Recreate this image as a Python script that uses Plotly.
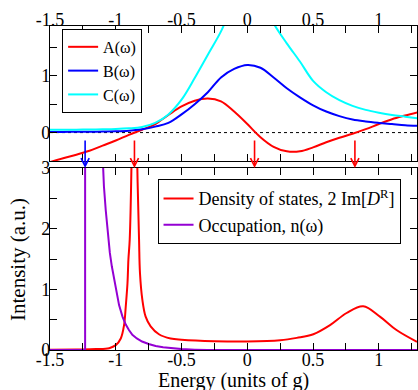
import plotly.graph_objects as go

# ---------------- data ----------------
# Top panel (common energy grid)
E_top = [-1.5, -1.4, -1.3, -1.2, -1.1, -1.0, -0.9, -0.8, -0.7, -0.6, -0.5, -0.4, -0.3, -0.2,
         -0.1, 0.0, 0.1, 0.2, 0.3, 0.4, 0.5, 0.6, 0.7, 0.8, 0.9, 1.0, 1.1, 1.2, 1.3]
A_y = [-0.52, -0.45, -0.39, -0.32, -0.23, -0.14, -0.04, 0.05, 0.15, 0.31, 0.46, 0.56, 0.60, 0.55,
       0.37, 0.15, -0.08, -0.25, -0.33, -0.33, -0.26, -0.17, -0.09, -0.02, 0.06, 0.15, 0.235, 0.30, 0.36]
B_y = [0.01, 0.012, 0.014, 0.016, 0.018, 0.022, 0.033, 0.06, 0.105, 0.17, 0.32, 0.50, 0.71, 0.97,
       1.12, 1.19, 1.14, 0.97, 0.78, 0.62, 0.48, 0.37, 0.29, 0.23, 0.195, 0.17, 0.15, 0.13, 0.12]
C_y = [0.05, 0.05, 0.052, 0.055, 0.058, 0.063, 0.075, 0.10, 0.17, 0.32, 0.58, 0.96, 1.37, 1.78,
       2.3, 2.6, 2.4, 1.92, 1.57, 1.25, 0.91, 0.71, 0.57, 0.47, 0.40, 0.35, 0.31, 0.28, 0.25]

# Bottom panel
DOS_x = [-1.5, -1.3, -1.15, -1.05, -1.0, -0.962, -0.937, -0.924, -0.911, -0.904, -0.894,
         -0.881, -0.874, -0.858, -0.843, -0.836, -0.823, -0.816, -0.798, -0.773, -0.735, -0.672, -0.583,
         -0.5, -0.25, 0.0, 0.25, 0.376, 0.502, 0.629, 0.755, 0.881, 1.008, 1.134, 1.29]
DOS_y = [0.003, 0.008, 0.015, 0.03, 0.08, 0.19, 0.41, 0.72, 1.10, 1.49, 1.82,
         3.0, 4.5, 9.0, 4.5, 3.0, 1.82, 1.27, 0.83, 0.55, 0.39, 0.26, 0.19,
         0.17, 0.145, 0.14, 0.16, 0.20, 0.26, 0.41, 0.61, 0.72, 0.55, 0.33, 0.135]

N_x = [-1.5, -1.233, -1.233, -1.101, -1.09, -1.076, -1.06, -1.045, -1.03, -1.013, -0.995,
       -0.975, -0.949, -0.924, -0.9, -0.874, -0.84, -0.80, -0.75, -0.697, -0.64, -0.583,
       -0.5, -0.4, -0.3, 1.29]
N_y = [0.0, 0.0, 10.0, 3.0, 2.7, 2.3, 1.9, 1.6, 1.38, 1.16, 0.93,
       0.74, 0.55, 0.42, 0.33, 0.25, 0.19, 0.14, 0.10, 0.066, 0.045, 0.03,
       0.015, 0.006, 0.0, 0.0]

# Arrows linking the panels
arrow_x = [-1.233, -0.858, 0.055, 0.818]
arrow_c = ["#0000ff", "#ff0000", "#ff0000", "#ff0000"]

# Ticks
x_tickvals = [-1.5, -1.25, -1.0, -0.75, -0.5, -0.25, 0.0, 0.25, 0.5, 0.75, 1.0, 1.25]
x_ticktext = ["-1.5", "", "-1", "", "-0.5", "", "0", "", "0.5", "", "1", ""]
y1_tickvals = [0, 0.5, 1, 1.5]
y1_ticktext = ["0", "", "1", ""]
y2_tickvals = [0, 0.5, 1, 1.5, 2, 2.5, 3]
y2_ticktext = ["0", "", "1", "", "2", "", "3"]

# ---------------- figure ----------------
FONT = "Liberation Serif"
RED, BLUE, CYAN, PURPLE = "#ff0000", "#0000ff", "#00ffff", "#9400d3"

fig = go.Figure()
fig.add_trace(go.Scatter(x=E_top, y=A_y, mode="lines", name="A(ω)", line=dict(color=RED, width=2, shape="spline"),
                         xaxis="x", yaxis="y", legend="legend"))
fig.add_trace(go.Scatter(x=E_top, y=B_y, mode="lines", name="B(ω)", line=dict(color=BLUE, width=2, shape="spline"),
                         xaxis="x", yaxis="y", legend="legend"))
fig.add_trace(go.Scatter(x=E_top, y=C_y, mode="lines", name="C(ω)", line=dict(color=CYAN, width=2, shape="spline"),
                         xaxis="x", yaxis="y", legend="legend"))
fig.add_trace(go.Scatter(x=DOS_x, y=DOS_y, mode="lines", name="Density of states, 2 Im[<i>D</i><sup>R</sup>]",
                         line=dict(color=RED, width=2, shape="spline"), xaxis="x2", yaxis="y2", legend="legend2"))
fig.add_trace(go.Scatter(x=N_x, y=N_y, mode="lines", name="Occupation, n(ω)",
                         line=dict(color=PURPLE, width=2, shape="linear"), xaxis="x2", yaxis="y2", legend="legend2"))

axis_common = dict(showline=True, linecolor="black", linewidth=1.2, mirror="allticks", ticks="inside",
                   ticklen=7, tickwidth=1, tickcolor="black", showgrid=False, zeroline=False,
                   automargin=False, tickfont=dict(family=FONT, size=18, color="black"))

fig.update_layout(
    width=418, height=390,
    margin=dict(l=50, r=1, t=26, b=40, autoexpand=False),
    paper_bgcolor="white", plot_bgcolor="white",
    font=dict(family=FONT, color="black"),
    xaxis=dict(domain=[0, 1], anchor="y", side="top", range=[-1.5, 1.29],
               tickvals=x_tickvals, ticktext=x_ticktext, ticklabelstandoff=-8, **axis_common),
    yaxis=dict(domain=[0.5833, 1], anchor="x", range=[-0.5, 1.875],
               tickvals=y1_tickvals, ticktext=y1_ticktext, ticklabelstandoff=-5, **axis_common),
    xaxis2=dict(domain=[0, 1], anchor="y2", range=[-1.5, 1.29],
                tickvals=x_tickvals, ticktext=x_ticktext, ticklabelstandoff=-7, **axis_common),
    yaxis2=dict(domain=[0, 0.5617], anchor="x2", range=[0, 3],
                tickvals=y2_tickvals, ticktext=y2_ticktext, ticklabelstandoff=-5, **axis_common),
    legend=dict(x=0.033, y=0.991, xanchor="left", yanchor="top", bgcolor="white",
                bordercolor="black", borderwidth=1, font=dict(family=FONT, size=16),
                tracegroupgap=0, itemwidth=30),
    legend2=dict(x=0.293, y=0.527, xanchor="left", yanchor="top", bgcolor="white",
                 bordercolor="black", borderwidth=1, font=dict(family=FONT, size=18),
                 tracegroupgap=0, itemwidth=30),
    showlegend=True,
)

# axis titles
fig.add_annotation(text="Energy (units of g)", xref="paper", yref="paper", x=0.5, y=-0.095,
                   xanchor="center", yanchor="middle", showarrow=False,
                   font=dict(family=FONT, size=20, color="black"))
fig.add_annotation(text="Intensity (a.u.)", xref="paper", yref="paper", x=-0.0872, y=0.281,
                   xanchor="center", yanchor="middle", showarrow=False, textangle=-90,
                   font=dict(family=FONT, size=21, color="black"))

# dotted zero line in the top panel
fig.add_shape(type="line", xref="x domain", yref="y", x0=0, x1=1, y0=0, y1=0,
              line=dict(color="black", width=1, dash="dot"), layer="below")

for xa, col in zip(arrow_x, arrow_c):
    fig.add_annotation(x=xa, y=3, xref="x2", yref="y2", ax=0, ay=-29, axref="pixel", ayref="pixel",
                       showarrow=True, arrowhead=5, arrowsize=1, arrowwidth=1.6, arrowcolor=col,
                       text="", standoff=0)

fig.write_html("out.html", post_script="document.body.style.margin='0';",
               config={"displayModeBar": False})
